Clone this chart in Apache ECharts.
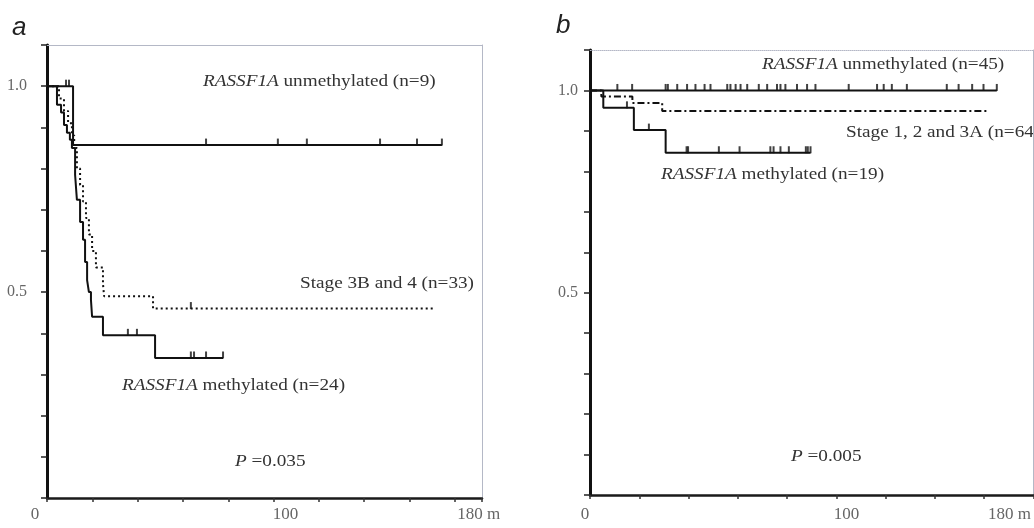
<!DOCTYPE html>
<html>
<head>
<meta charset="utf-8">
<script src="https://cdn.jsdelivr.net/npm/echarts@6/dist/echarts.min.js"></script>
<style>html,body{margin:0;padding:0;background:#fff;}#c{width:1034px;height:528px;}</style>
</head>
<body>
<div id="c"></div>
<script>
// ---------- Panel a (months, survival) ----------
const aUnmethylated = [[0,1],[11.5,0.857],[174.3,0.857]];
const aUnmethylatedCensor = [[8.4,1],[9.7,1],[70.2,0.857],[101.9,0.857],[114.7,0.857],[147,0.857],[163.3,0.857],[174.3,0.857]];
const aMethylated = [[0,1],[4.4,0.955],[6.2,0.936],[7.5,0.906],[8.8,0.887],[10.1,0.870],[11.0,0.850],[12.4,0.785],[13.2,0.724],[14.6,0.670],[15.9,0.627],[16.8,0.573],[17.7,0.529],[18.5,0.5],[19.4,0.481],[19.9,0.44],[24.7,0.395],[47.7,0.340],[77.7,0.340]];
const aMethylatedCensor = [[35.7,0.395],[39.7,0.395],[63.5,0.340],[64.9,0.340],[70.2,0.340],[77.7,0.340]];
const aStage = [[0,1],[5.3,0.97],[7.5,0.94],[9.3,0.91],[11.0,0.88],[12.0,0.85],[13.2,0.80],[14.6,0.76],[15.9,0.72],[17.2,0.68],[18.5,0.64],[19.9,0.60],[21.6,0.56],[24.7,0.52],[25.2,0.49],[46.8,0.46],[170.3,0.46]];
const aStageCensor = [[63.5,0.46]];
// ---------- Panel b ----------
const bUnmethylated = [[0,1],[165.1,1]];
const bUnmethylatedCensor = [11.1,17.1,30.7,31.6,35.4,39.4,42.8,46.5,48.9,55.7,57.0,59.1,61.1,63.8,68.5,71.9,75.9,77.3,79.3,84.0,88.1,91.5,105.0,116.5,119.2,122.5,128.6,144.8,149.6,155.1,159.7,165.1];
const bMethylated = [[0,1],[5.4,0.957],[17.8,0.902],[30.7,0.846],[89.5,0.846]];
const bMethylatedCensor = [[15.0,0.957],[23.9,0.902],[39.2,0.846],[39.8,0.846],[52.3,0.846],[60.7,0.846],[73.2,0.846],[74.5,0.846],[77.3,0.846],[80.7,0.846],[87.6,0.846],[88.4,0.846],[89.5,0.846]];
const bStage = [[0,1],[4.6,0.985],[17.2,0.969],[29.3,0.949],[161.7,0.949]];
// ---------- axis labels ----------
const xLabelsA = {0:'{l|0}',100:'{c|100}',180:'{r|180 m}'};
const xLabelsB = {0:'{l|0}',100:'{c|100}',180:'{r|180 m}'};
const yLabels = {'1.0':'1.0','0.5':'0.5'};

const SERIF = 'Liberation Serif';
const AX = '#666';
const INK = '#111';

function yFmt(v){ const k=(Math.round(v*10)/10).toFixed(1); return yLabels[k]||''; }

function xAxis(grid, max, labels, rich){
  return {type:'value', gridIndex:grid, min:0, max:max, interval:20, position:'bottom',
    axisLine:{show:true, onZero:false, lineStyle:{color:'#1a1a1a', width:2.5}},
    axisTick:{show:true, length:4, lineStyle:{color:'#333', width:1.5}},
    splitLine:{show:false},
    axisLabel:{show:true, showMaxLabel:true, showMinLabel:true, margin:rich.margin, color:AX, fontFamily:SERIF, fontSize:17,
      formatter:function(v){ return labels[Math.round(v)]||''; }, rich:rich.r}};
}
function topAxis(grid, max, type){
  return {type:'value', gridIndex:grid, min:0, max:max, position:'top',
    axisLine:{show:true, onZero:false, lineStyle:{color:'#b4b8c6', width:1, type:type}},
    axisTick:{show:false}, axisLabel:{show:false}, splitLine:{show:false}};
}
function yAxis(grid, margin){
  return {type:'value', gridIndex:grid, min:0, max:1.1, interval:0.1, position:'left',
    axisLine:{show:true, onZero:false, lineStyle:{color:INK, width:3}},
    axisTick:{show:true, length:6, lineStyle:{color:'#222', width:1.5}},
    splitLine:{show:false},
    axisLabel:{show:true, margin:margin, color:AX, fontFamily:SERIF, fontSize:16, formatter:yFmt}};
}
function rightAxis(grid){
  return {type:'value', gridIndex:grid, min:0, max:1.1, position:'right',
    axisLine:{show:true, onZero:false, lineStyle:{color:'#b4b8c6', width:1}},
    axisTick:{show:false}, axisLabel:{show:false}, splitLine:{show:false}};
}
function curve(xi, data, type, width){
  return {type:'line', xAxisIndex:xi, yAxisIndex:xi, data:data, step:'end', showSymbol:false, symbol:'none',
    silent:true, animation:false, z:3,
    lineStyle:{color:INK, width:width||2, type:type||'solid', cap:'butt'}};
}
function censor(xi, data){
  return {type:'scatter', xAxisIndex:xi, yAxisIndex:xi, data:data, symbol:'rect', symbolSize:[2,7], symbolOffset:[0,-3],
    silent:true, animation:false, z:4, itemStyle:{color:INK}};
}
function label(x, y, text, opts){
  opts = opts||{};
  const base = {fontFamily:SERIF, fontSize:16, fill:'#333'};
  return {type:'text', x:x, y:y, scaleX:opts.sx||1.2, silent:true,
    style:Object.assign({text:text, align:'left', verticalAlign:'middle',
      rich:{i:Object.assign({fontStyle:'italic'}, base), n:base}}, base, opts.style||{})};
}

const chart = echarts.init(document.getElementById('c'), null, {renderer:'canvas'});
chart.setOption({
  backgroundColor:'#fff',
  animation:false,
  grid:[
    {left:47, top:45, width:435, height:453, show:false},
    {left:590, top:50, width:444, height:445, show:false}
  ],
  xAxis:[
    xAxis(0, 192, xLabelsA, {margin:8, r:{l:{padding:[0,24,0,0]}, c:{padding:[0,0,0,24]}, r:{padding:[0,0,0,48]}}}),
    xAxis(1, 180, xLabelsB, {margin:11, r:{l:{padding:[0,10,0,0]}, c:{padding:[0,0,0,20]}, r:{padding:[0,48,0,0]}}}),
    topAxis(0, 192, 'solid'),
    topAxis(1, 180, 'dotted')
  ],
  yAxis:[ yAxis(0, 20), yAxis(1, 12), rightAxis(0), rightAxis(1) ],
  series:[
    curve(0, aUnmethylated),
    curve(0, aMethylated),
    curve(0, aStage, [2,3], 2),
    censor(0, aUnmethylatedCensor),
    censor(0, aMethylatedCensor),
    censor(0, aStageCensor),
    curve(1, bUnmethylated),
    curve(1, bMethylated),
    curve(1, bStage, [7,3,2,3], 2),
    censor(1, bUnmethylatedCensor.map(function(m){return [m,1];})),
    censor(1, bMethylatedCensor)
  ],
  graphic:[
    {type:'text', x:12, y:28, silent:true, style:{text:'a', fontFamily:'Liberation Sans', fontStyle:'italic', fontSize:26, fill:'#222', align:'left', verticalAlign:'middle'}},
    {type:'text', x:556, y:26, silent:true, style:{text:'b', fontFamily:'Liberation Sans', fontStyle:'italic', fontSize:26, fill:'#222', align:'left', verticalAlign:'middle'}},
    label(203, 82, '{i|RASSF1A}{n| unmethylated (n=9)}'),
    label(300, 284, 'Stage 3B and 4 (n=33)'),
    label(122, 386, '{i|RASSF1A}{n| methylated (n=24)}'),
    label(235, 462, '{i|P}{n| =0.035}'),
    label(762, 65, '{i|RASSF1A}{n| unmethylated (n=45)}'),
    label(846, 133, 'Stage 1, 2 and 3A (n=64)'),
    label(661, 175, '{i|RASSF1A}{n| methylated (n=19)}'),
    label(791, 457, '{i|P}{n| =0.005}')
  ]
});
</script>
</body>
</html>
